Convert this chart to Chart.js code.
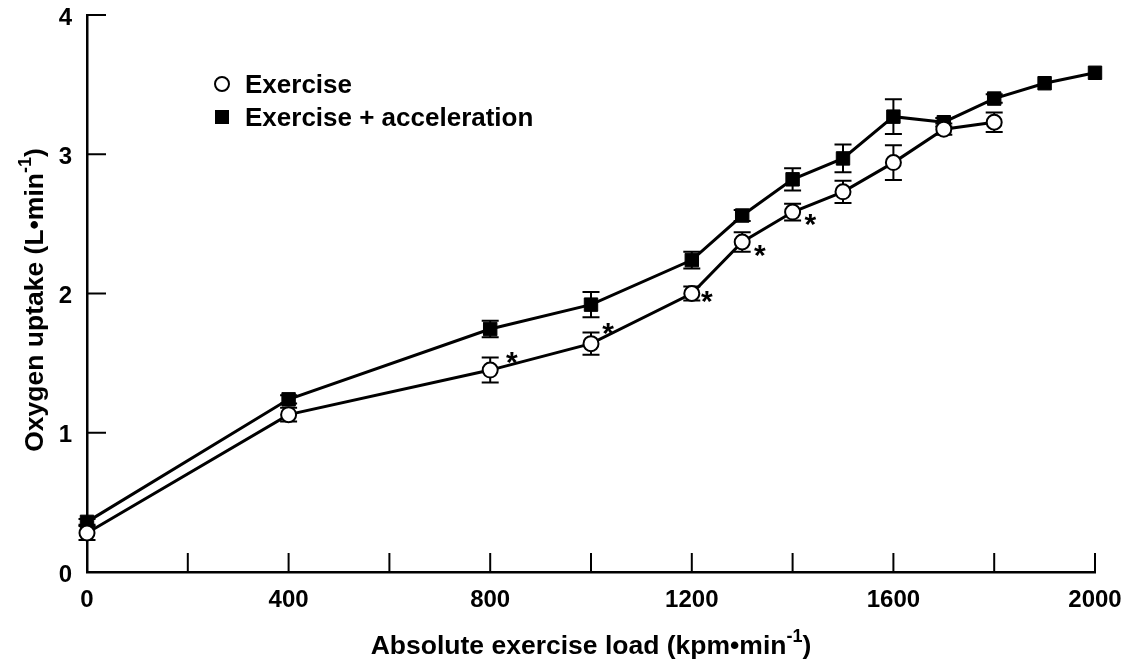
<!DOCTYPE html>
<html>
<head>
<meta charset="utf-8">
<script src="https://cdn.jsdelivr.net/npm/chart.js@4.4.0/dist/chart.umd.min.js"></script>
<style>
  html, body { margin: 0; padding: 0; background: #fff; }
  #wrap { width: 1124px; height: 666px; }
</style>
</head>
<body>
<div id="wrap"><canvas id="myChart" width="1124" height="666"></canvas></div>
<script>
// Exercise only (open circles)
const loadsExercise = [0, 400, 800, 1000, 1200, 1300, 1400, 1500, 1600, 1700, 1800];
const vo2Exercise   = [0.28, 1.13, 1.45, 1.64, 2.00, 2.37, 2.585, 2.73, 2.94, 3.18, 3.23];
const sdExercise    = [0.05, 0.05, 0.09, 0.08, 0.05, 0.07, 0.06, 0.08, 0.125, 0.04, 0.07];

// Exercise + acceleration (filled squares)
const loadsAccel = [0, 400, 800, 1000, 1200, 1300, 1400, 1500, 1600, 1700, 1800, 1900, 2000];
const vo2Accel   = [0.36, 1.24, 1.745, 1.92, 2.24, 2.56, 2.82, 2.97, 3.27, 3.23, 3.40, 3.51, 3.585];
const sdAccel    = [0.02, 0.03, 0.06, 0.09, 0.06, 0.04, 0.08, 0.10, 0.125, 0.03, 0.03, 0, 0];

// significance marks (*) placed next to the exercise points
const starLoads  = [843, 1034, 1230, 1335, 1435];
const starValues = [1.56, 1.77, 2.00, 2.33, 2.55];

const legendLabels = ['Exercise', 'Exercise + acceleration'];
const xTitle = ['Absolute exercise load (kpm\u2022min', '-1', ')'];
const yTitle = ['Oxygen uptake (L\u2022min', '-1', ')'];

const FONT = '"Liberation Sans", Arial, Helvetica, sans-serif';

function toPoints(xs, ys) {
    return xs.map((x, i) => ({ x: x, y: ys[i] }));
}

// text with a raised "-1" in the middle
function drawSupText(ctx, parts, cx, cy, size) {
    const big = 'bold ' + size + 'px ' + FONT;
    const small = 'bold ' + Math.round(size * 0.68) + 'px ' + FONT;
    ctx.font = big;
    const w0 = ctx.measureText(parts[0]).width;
    const w2 = ctx.measureText(parts[2]).width;
    ctx.font = small;
    const w1 = ctx.measureText(parts[1]).width;
    let x = cx - (w0 + w1 + w2) / 2;
    ctx.textAlign = 'left';
    ctx.textBaseline = 'alphabetic';
    ctx.font = big;
    ctx.fillText(parts[0], x, cy);
    x += w0;
    ctx.font = small;
    ctx.fillText(parts[1], x, cy - size * 0.45);
    x += w1;
    ctx.font = big;
    ctx.fillText(parts[2], x, cy);
}

const paperPlugin = {
    id: 'paper',
    beforeDatasetsDraw(chart) {
        const ctx = chart.ctx;
        const xs = chart.scales.x, ys = chart.scales.y;
        ctx.save();
        ctx.strokeStyle = '#000';
        // inward tick marks
        ctx.lineWidth = 2;
        xs.ticks.forEach(t => {
            const px = xs.getPixelForValue(t.value);
            ctx.beginPath();
            ctx.moveTo(px, ys.bottom);
            ctx.lineTo(px, ys.bottom - 19);
            ctx.stroke();
        });
        ys.ticks.forEach(t => {
            const py = ys.getPixelForValue(t.value);
            ctx.beginPath();
            ctx.moveTo(xs.left, py);
            ctx.lineTo(xs.left + 19, py);
            ctx.stroke();
        });
        // error bars
        chart.data.datasets.forEach(ds => {
            ds.data.forEach((p, i) => {
                const sd = ds.sd[i];
                if (!sd) return;
                const px = xs.getPixelForValue(p.x);
                const top = ys.getPixelForValue(p.y + sd);
                const bot = ys.getPixelForValue(p.y - sd);
                ctx.lineWidth = 2;
                ctx.beginPath();
                ctx.moveTo(px, top); ctx.lineTo(px, bot);
                ctx.moveTo(px - 8.5, top); ctx.lineTo(px + 8.5, top);
                ctx.moveTo(px - 8.5, bot); ctx.lineTo(px + 8.5, bot);
                ctx.stroke();
            });
        });
        ctx.restore();
    },
    afterDatasetsDraw(chart) {
        const ctx = chart.ctx;
        const xs = chart.scales.x, ys = chart.scales.y;
        ctx.save();
        ctx.fillStyle = '#000';
        // asterisks
        ctx.font = 'bold 30px ' + FONT;
        ctx.textAlign = 'center';
        ctx.textBaseline = 'alphabetic';
        starLoads.forEach((l, i) => {
            ctx.fillText('*', xs.getPixelForValue(l), ys.getPixelForValue(starValues[i]) + 17);
        });

        // legend
        const lx = 222;
        const rows = [84, 117];
        chart.data.datasets.forEach((ds, i) => {
            ctx.lineWidth = 2;
            ctx.strokeStyle = '#000';
            if (ds.pointStyle === 'circle') {
                ctx.fillStyle = '#fff';
                ctx.beginPath();
                ctx.arc(lx, rows[i], 7, 0, Math.PI * 2);
                ctx.fill();
                ctx.stroke();
            } else {
                ctx.fillStyle = '#000';
                ctx.fillRect(lx - 7, rows[i] - 7, 14, 14);
            }
            ctx.fillStyle = '#000';
            ctx.font = 'bold 26px ' + FONT;
            ctx.textAlign = 'left';
            ctx.textBaseline = 'alphabetic';
            ctx.fillText(legendLabels[i], 245, rows[i] + 9);
        });

        // axis titles
        drawSupText(ctx, xTitle, 591, 654, 26.5);
        ctx.translate(43, 300);
        ctx.rotate(-Math.PI / 2);
        drawSupText(ctx, yTitle, 0, 0, 26.5);
        ctx.restore();
    }
};

const data = {
    datasets: [
        {
            label: legendLabels[0],
            data: toPoints(loadsExercise, vo2Exercise),
            sd: sdExercise,
            borderColor: '#000',
            borderWidth: 3,
            pointStyle: 'circle',
            pointRadius: 7.5,
            pointBorderWidth: 2,
            pointBackgroundColor: '#fff',
            pointBorderColor: '#000',
            tension: 0,
            clip: false
        },
        {
            label: legendLabels[1],
            data: toPoints(loadsAccel, vo2Accel),
            sd: sdAccel,
            borderColor: '#000',
            borderWidth: 3,
            pointStyle: 'rect',
            pointRadius: 9.5,
            pointBorderWidth: 1,
            pointBackgroundColor: '#000',
            pointBorderColor: '#000',
            tension: 0,
            clip: false
        }
    ]
};

const tickFont = { family: FONT, size: 24, weight: 'bold' };

const config = {
    type: 'line',
    data: data,
    options: {
        responsive: false,
        animation: false,
        layout: { padding: { top: 15, right: 29, left: 0, bottom: 0 } },
        plugins: {
            legend: { display: false },
            tooltip: { enabled: false }
        },
        scales: {
            x: {
                type: 'linear',
                min: 0,
                max: 2000,
                ticks: {
                    stepSize: 200,
                    autoSkip: false,
                    maxRotation: 0,
                    padding: 14,
                    color: '#000',
                    font: tickFont,
                    callback: v => (v % 400 === 0 ? v : '')
                },
                grid: { display: false, drawTicks: false },
                border: { display: true, color: '#000', width: 2.5 },
                afterFit: s => {
                    s.height = 94;
                    s.paddingLeft = 0;
                    s.paddingRight = 0;
                }
            },
            y: {
                type: 'linear',
                min: 0,
                max: 4,
                ticks: {
                    stepSize: 1,
                    padding: 15,
                    labelOffset: 3,
                    color: '#000',
                    font: tickFont
                },
                grid: { display: false, drawTicks: false },
                border: { display: true, color: '#000', width: 2.5 },
                afterFit: s => {
                    s.width = 87;
                    s.paddingTop = 0;
                    s.paddingBottom = 0;
                }
            }
        }
    },
    plugins: [paperPlugin]
};

const ctx = document.getElementById('myChart').getContext('2d');
const myChart = new Chart(ctx, config);
</script>
</body>
</html>
